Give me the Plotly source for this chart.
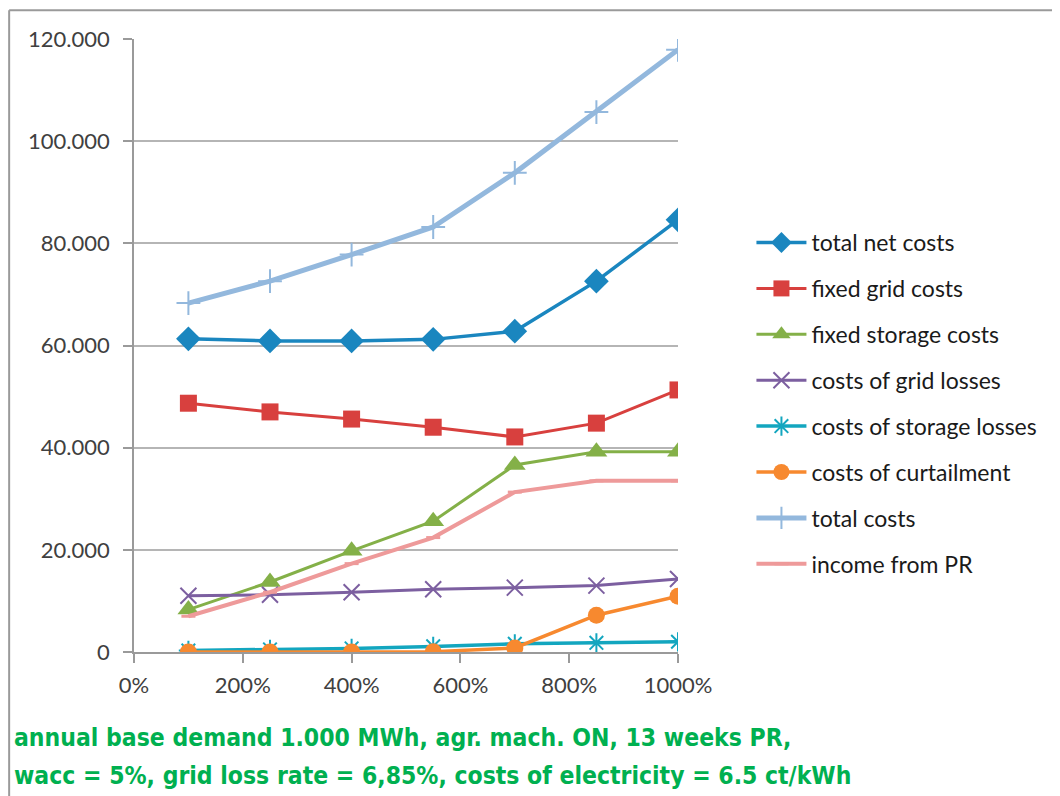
import plotly.graph_objects as go

x_pct = [100, 250, 400, 550, 700, 850, 1000]

total_net_costs = [61300, 60900, 60900, 61200, 62800, 72600, 84600]
fixed_grid_costs = [48700, 47000, 45600, 44000, 42100, 44800, 51300]
fixed_storage_costs = [8300, 13700, 19800, 25600, 36600, 39200, 39200]
costs_grid_losses = [11000, 11200, 11700, 12300, 12600, 13000, 14300]
costs_storage_losses = [300, 500, 700, 1100, 1600, 1800, 2000]
costs_curtailment = [0, 0, 0, 50, 800, 7200, 10900]
total_costs = [68300, 72600, 77800, 83200, 93800, 105700, 117900]
income_from_pr = [7000, 11700, 17300, 22400, 31300, 33500, 33500]

x_tick_vals = [0, 200, 400, 600, 800, 1000]
x_tick_text = ["0%", "200%", "400%", "600%", "800%", "1000%"]
y_tick_vals = [0, 20000, 40000, 60000, 80000, 100000, 120000]
y_tick_text = ["0", "20.000", "40.000", "60.000", "80.000", "100.000", "120.000"]

note_lines = [
    "annual base demand 1.000 MWh, agr. mach. ON, 13 weeks PR,",
    "wacc = 5%, grid loss rate = 6,85%, costs of electricity = 6.5 ct/kWh",
]

series = [
    ("total net costs", total_net_costs, "#1A86BF", dict(symbol="diamond", size=19), 3.5),
    ("fixed grid costs", fixed_grid_costs, "#D8403E", dict(symbol="square", size=17), 3),
    ("fixed storage costs", fixed_storage_costs, "#84B048", dict(symbol="triangle-up", size=19), 3),
    ("costs of grid losses", costs_grid_losses, "#7C5FA0", dict(symbol="x-thin-open", size=16, line=dict(width=2, color="#7C5FA0")), 3),
    ("costs of storage losses", costs_storage_losses, "#13A6BF", dict(symbol="asterisk-open", size=16, line=dict(width=2, color="#13A6BF")), 3.5),
    ("costs of curtailment", costs_curtailment, "#F7892F", dict(symbol="circle", size=17), 3.5),
    ("total costs", total_costs, "#93B8DD", dict(symbol="cross-thin-open", size=17, line=dict(width=2, color="#93B8DD")), 5),
    ("income from PR", income_from_pr, "#EE9A9A", dict(symbol="line-ew-open", size=10, line=dict(width=3, color="#EE9A9A")), 4),
]

fig = go.Figure()
for i, (name, vals, color, marker, lw) in enumerate(series):
    m = dict(color=color)
    m.update(marker)
    fig.add_trace(go.Scatter(
        x=x_pct, y=vals, name=name, mode="lines+markers",
        line=dict(color=color, width=lw), marker=m, legendgroup=f"g{i}",
    ))

fig.update_layout(
    width=1052, height=788,
    margin=dict(l=126, r=382, t=31, b=144),
    paper_bgcolor="white", plot_bgcolor="white",
    font=dict(family="Lato, Open Sans, sans-serif", color="#404040"),
    showlegend=True,
    legend=dict(
        x=1.135, y=0.703, xanchor="left", yanchor="top",
        font=dict(size=23, color="#1a1a1a", family="Lato, Open Sans, sans-serif"),
        traceorder="grouped", tracegroupgap=13, itemwidth=50,
        bgcolor="rgba(0,0,0,0)",
    ),
    xaxis=dict(
        range=[0, 1000], tickvals=x_tick_vals, ticktext=x_tick_text,
        showgrid=False, zeroline=False, showline=True, linecolor="#9A9A9A", linewidth=1.5,
        ticks="outside", ticklen=9, tickcolor="#9A9A9A", tickwidth=1.5,
        tickfont=dict(size=22, color="#404040"), ticklabelstandoff=4,
    ),
    yaxis=dict(
        range=[0, 120000], tickvals=y_tick_vals, ticktext=y_tick_text,
        showgrid=True, gridcolor="#B5B5B5", gridwidth=1.5, zeroline=False,
        showline=True, linecolor="#9A9A9A", linewidth=1.5,
        ticks="outside", ticklen=9, tickcolor="#9A9A9A", tickwidth=1.5,
        tickfont=dict(size=22, color="#404040"), ticklabelstandoff=9,
    ),
)

# outer frame (top and left edges visible in the reference)
fig.add_shape(type="line", xref="paper", yref="paper", x0=-0.2295, x1=1.71, y0=1.047, y1=1.047,
              line=dict(color="#9A9A9A", width=2))
fig.add_shape(type="line", xref="paper", yref="paper", x0=-0.2295, x1=-0.2295, y0=1.047, y1=-0.25,
              line=dict(color="#9A9A9A", width=2))

for k, txt in enumerate(note_lines):
    fig.add_annotation(
        text=txt, xref="paper", yref="paper", x=-0.224, y=-0.140 - k * 0.062,
        xanchor="left", yanchor="middle", showarrow=False,
        font=dict(family="Liberation Sans Narrow, DejaVu Sans Condensed, sans-serif", size=24.5, color="#00B050", weight="bold"),
    )

fig.write_html("out.html")
